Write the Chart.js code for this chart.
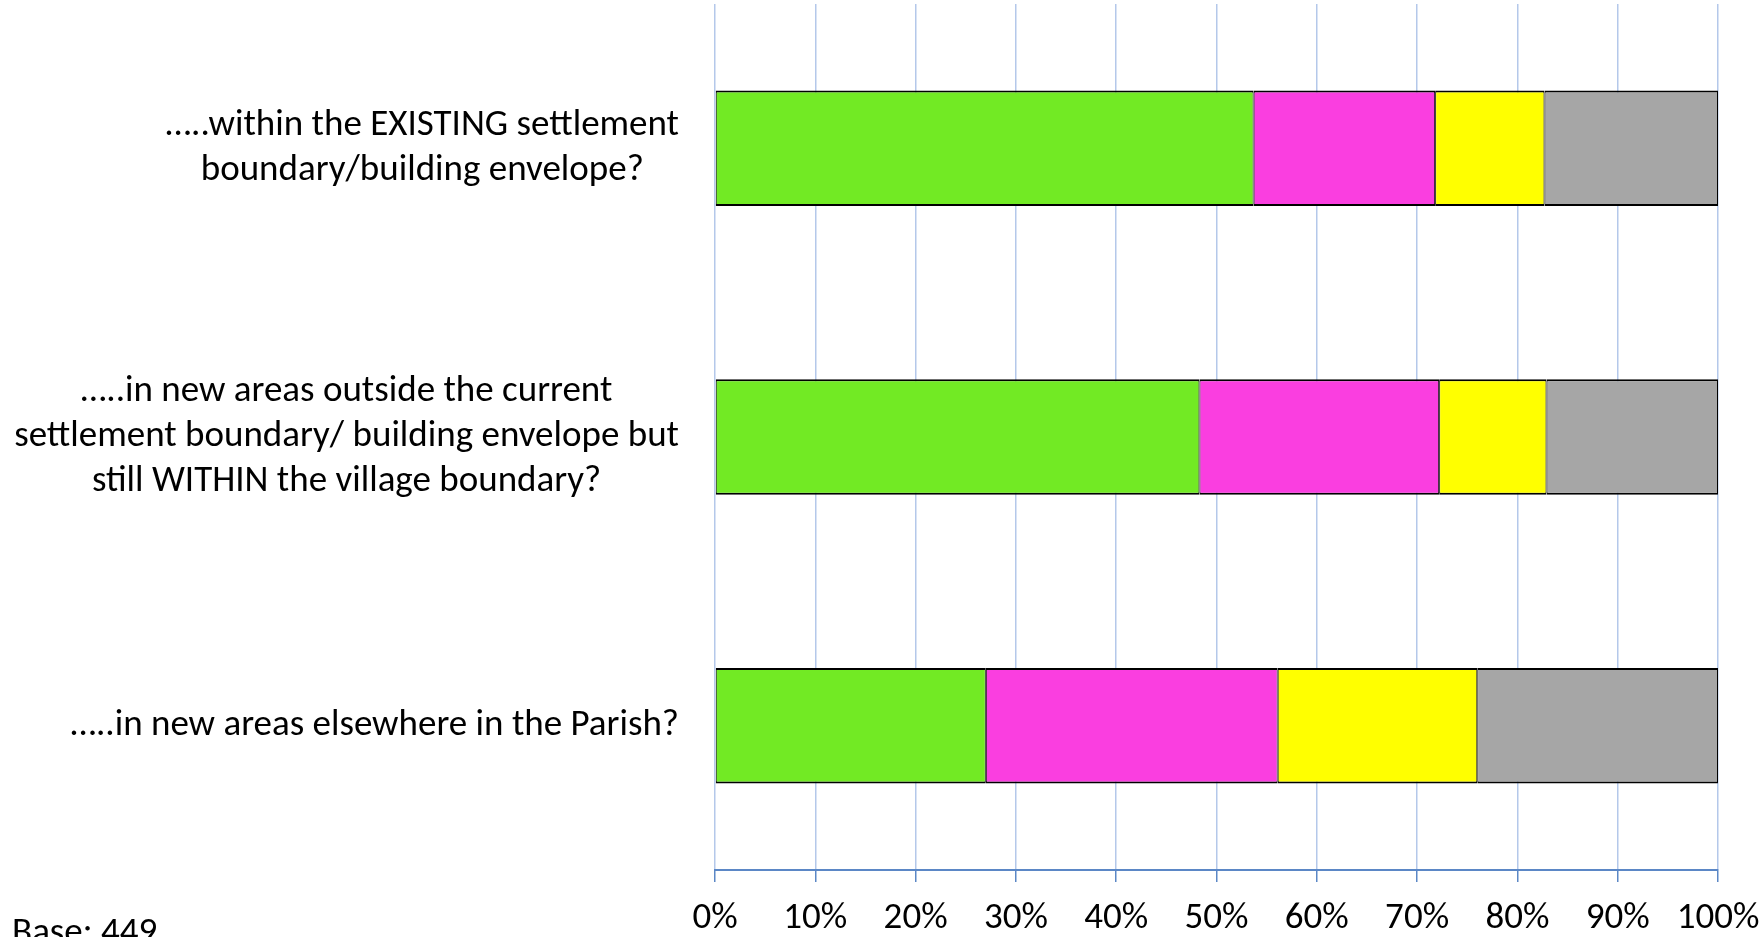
<!DOCTYPE html>
<html lang="en">
<head>
<meta charset="UTF-8">
<title>New housing locations</title>
<script src="https://cdn.jsdelivr.net/npm/chart.js@4.4.0/dist/chart.umd.min.js"></script>
<style>
  html, body { margin: 0; padding: 0; background: #fff; }
</style>
</head>
<body>
<canvas id="housingChart" width="1764" height="937"></canvas>
<script>
// categories (multi-line question text)
const questions = [
  ["…..within the EXISTING settlement", "boundary/building envelope?"],
  ["…..in new areas outside the current", "settlement boundary/ building envelope but", "still WITHIN the village boundary?"],
  ["…..in new areas elsewhere in the Parish?"]
];

// answer shares, % of respondents
const greenShare = [53.7, 48.3, 27.0];
const pinkShare = [18.1, 23.9, 29.1];
const yellowShare = [10.9, 10.7, 19.9];
const greyShare = [17.3, 17.1, 24.0];

const xTickValues = [0, 10, 20, 30, 40, 50, 60, 70, 80, 90, 100];
const baseNote = "Base: 449";

const fontFamily = "Carlito, Calibri, Lato, sans-serif";
const fontSize = 37;

// draws the question labels: each block right aligned, its lines centred
const questionLabels = {
  id: "questionLabels",
  afterDraw(chart) {
    const ctx = chart.ctx;
    const yScale = chart.scales.y;
    const right = 679;
    const lineGap = 45;
    ctx.save();
    ctx.font = fontSize + "px " + fontFamily;
    ctx.fillStyle = "#000";
    ctx.textAlign = "center";
    ctx.textBaseline = "middle";
    questions.forEach((lines, i) => {
      const cy = yScale.getPixelForTick(i);
      const w = Math.max(...lines.map(l => ctx.measureText(l).width));
      const cx = right - w / 2;
      lines.forEach((line, j) => {
        ctx.fillText(line, cx, cy + (j - (lines.length - 1) / 2) * lineGap);
      });
    });
    ctx.textAlign = "left";
    ctx.textBaseline = "alphabetic";
    ctx.fillText(baseNote, 12, 943);
    ctx.restore();
  }
};

const barStyle = {
  borderColor: "#000",
  borderWidth: { top: 2, bottom: 2, left: 1, right: 1 },
  borderSkipped: false,
  barPercentage: 0.4,
  categoryPercentage: 1.0
};

new Chart(document.getElementById("housingChart"), {
  type: "bar",
  data: {
    labels: questions,
    datasets: [
      Object.assign({ label: "Green", data: greenShare, backgroundColor: "#72EA24" }, barStyle),
      Object.assign({ label: "Pink", data: pinkShare, backgroundColor: "#FA3EE0" }, barStyle),
      Object.assign({ label: "Yellow", data: yellowShare, backgroundColor: "#FFFF00" }, barStyle),
      Object.assign({ label: "Grey", data: greyShare, backgroundColor: "#A6A6A6" }, barStyle)
    ]
  },
  plugins: [questionLabels],
  options: {
    indexAxis: "y",
    responsive: false,
    animation: false,
    devicePixelRatio: 1,
    layout: { padding: { top: 4, right: 46, bottom: 0, left: 0 } },
    plugins: {
      legend: { display: false },
      tooltip: { enabled: false }
    },
    scales: {
      x: {
        stacked: true,
        min: 0,
        max: 100,
        afterBuildTicks: (scale) => {
          scale.ticks = xTickValues.map(v => ({ value: v }));
        },
        ticks: {
          autoSkip: false,
          maxRotation: 0,
          padding: 15,
          color: "#000",
          font: { family: fontFamily, size: fontSize },
          callback: (v) => v + "%"
        },
        grid: {
          color: "#B4C8EA",
          tickColor: "#5B87C6",
          tickLength: 12,
          lineWidth: 1.5
        },
        border: { color: "#5B87C6", width: 2 },
        afterFit: (scale) => {
          scale.height = 67;
          // let the "100%" label hang into the right margin
          scale.paddingLeft = 0;
          scale.paddingRight = 0;
        }
      },
      y: {
        stacked: true,
        ticks: { display: false },
        grid: { display: false, drawTicks: false },
        border: { display: false },
        afterFit: (scale) => { scale.width = 715; }
      }
    }
  }
});
</script>
</body>
</html>
